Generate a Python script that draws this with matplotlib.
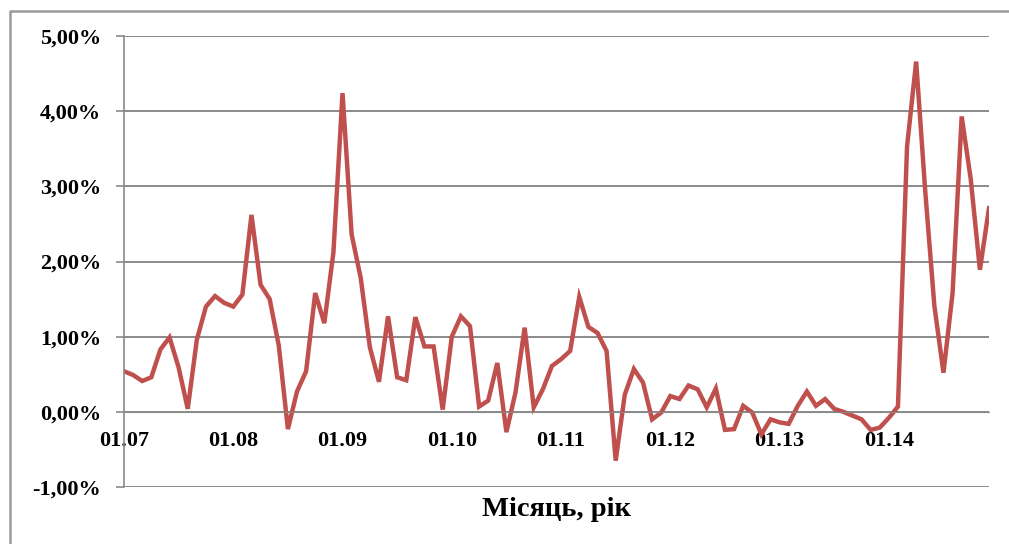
import matplotlib
matplotlib.use("Agg")
import matplotlib.pyplot as plt
from matplotlib.lines import Line2D
from matplotlib.ticker import FuncFormatter, MultipleLocator

# monthly values, %, 01.2007 - 12.2014
values = [0.54, 0.49, 0.41, 0.46, 0.83, 0.99, 0.59, 0.04, 0.96, 1.40,
          1.54, 1.45, 1.40, 1.56, 2.62, 1.69, 1.50, 0.88, -0.23, 0.27,
          0.54, 1.58, 1.18, 2.12, 4.24, 2.36, 1.78, 0.86, 0.40, 1.27,
          0.46, 0.42, 1.26, 0.87, 0.87, 0.03, 1.00, 1.27, 1.14, 0.07,
          0.15, 0.65, -0.27, 0.26, 1.12, 0.06, 0.30, 0.61, 0.70, 0.81,
          1.53, 1.13, 1.05, 0.81, -0.65, 0.23, 0.57, 0.39, -0.10, -0.01,
          0.21, 0.17, 0.35, 0.30, 0.06, 0.31, -0.24, -0.23, 0.08, -0.01,
          -0.30, -0.10, -0.14, -0.16, 0.08, 0.27, 0.08, 0.17, 0.04, 0.00,
          -0.05, -0.10, -0.24, -0.21, -0.08, 0.07, 3.53, 4.66, 2.93, 1.41,
          0.52, 1.58, 3.93, 3.09, 1.89, 2.71]
year_labels = ["01.07", "01.08", "01.09", "01.10", "01.11", "01.12", "01.13", "01.14"]
x_title = "Місяць, рік"

W, H = 1009, 544
fig = plt.figure(figsize=(W / 100, H / 100), dpi=100)
ax = fig.add_axes([124 / W, (H - 487) / H, (989 - 124) / W, (487 - 36) / H])

grid_col = "#8a8a8a"
ax.plot(range(len(values)), values, color="#C0504D", lw=3.2, solid_joinstyle="miter")

ax.set_xlim(0, len(values) - 1)
ax.set_ylim(-1, 5)
ax.yaxis.set_major_locator(MultipleLocator(1))
ax.yaxis.set_major_formatter(FuncFormatter(lambda v, p: f"{v:.2f}%".replace(".", ",")))
ax.grid(axis="y", color=grid_col, lw=1.4)
ax.set_axisbelow(True)

ax.set_xticks(range(0, 96, 12))
ax.set_xticklabels(year_labels)

for s in ("top", "right"):
    ax.spines[s].set_visible(False)
ax.spines["bottom"].set_position(("data", 0))
ax.spines["bottom"].set_color(grid_col)
ax.spines["left"].set_color(grid_col)
ax.spines["left"].set_linewidth(1.2)

font = dict(family="Liberation Serif", weight="bold")
ax.tick_params(axis="x", length=0, pad=14)
ax.tick_params(axis="y", length=6, color=grid_col, width=1.2, pad=10.5)
for lab in ax.get_xticklabels() + ax.get_yticklabels():
    lab.set_fontfamily("Liberation Serif")
    lab.set_fontweight("bold")
    lab.set_fontsize(16)

fig.text((124 + 989) / 2 / W, (H - 510) / H, x_title, ha="center", va="center",
         fontsize=20.5, **font)

# outer chart frame (only top and left visible)
fy = (H - 11) / H
fx = 10 / W
fig.add_artist(Line2D([fx, fx, 1.0], [0.0, fy, fy], transform=fig.transFigure,
                      color="#9a9a9a", lw=1.8))

fig.savefig("out.png", dpi=100)
